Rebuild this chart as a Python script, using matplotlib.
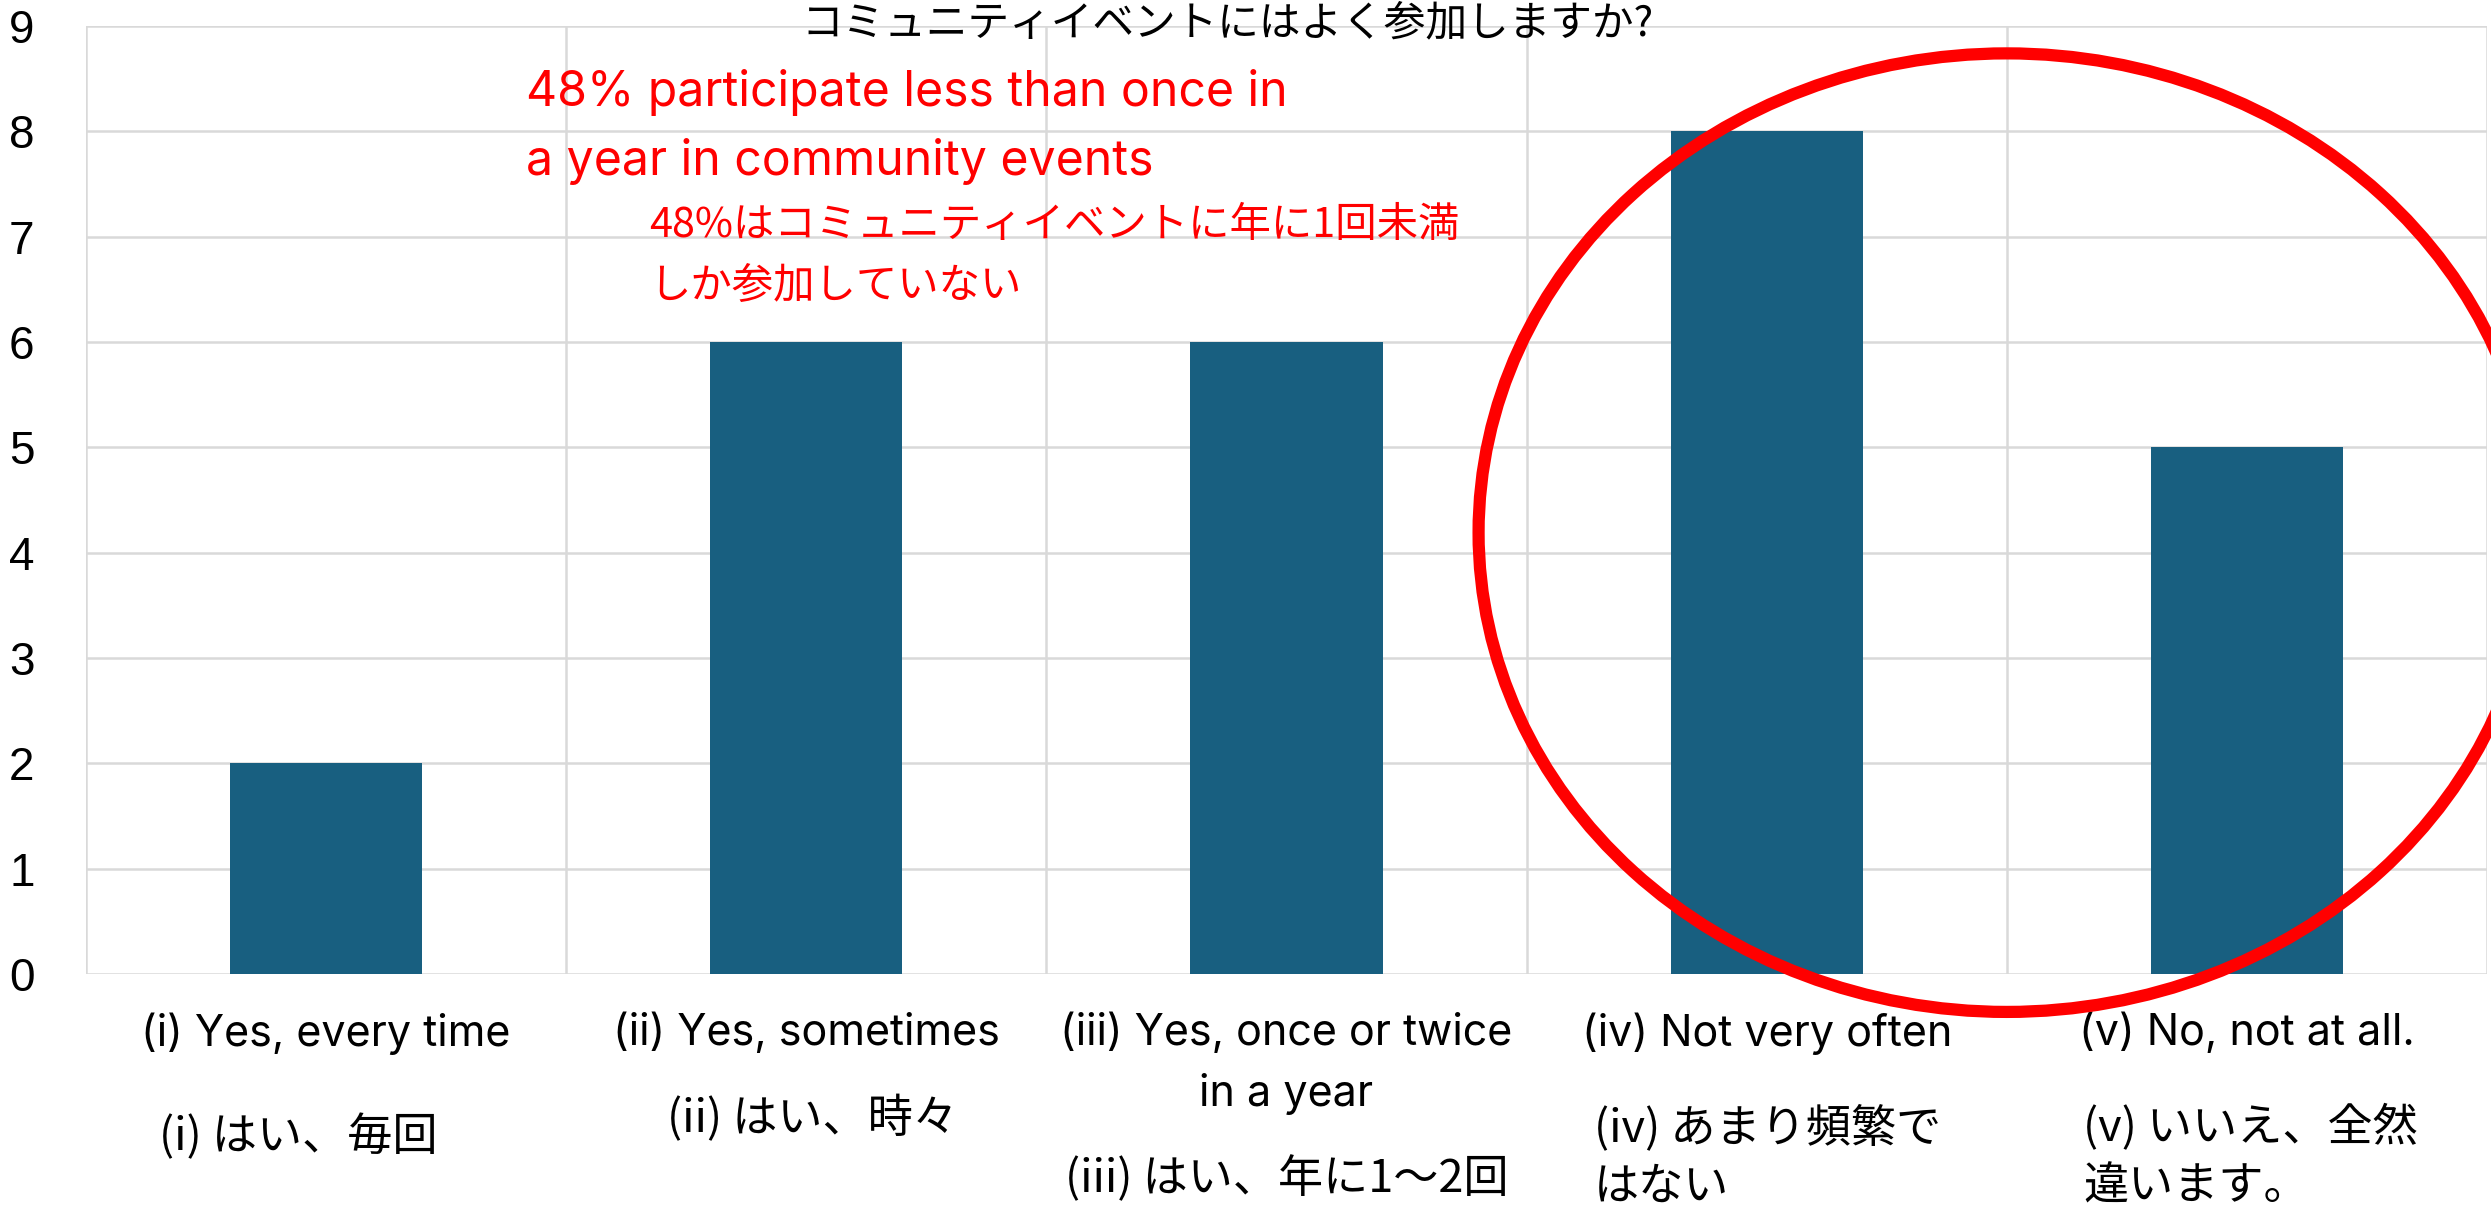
import matplotlib.pyplot as plt
from matplotlib.patches import Ellipse

# survey answers, English (tick labels) and Japanese (text under each tick)
answers_en = [
    "(i) Yes, every time",
    "(ii) Yes, sometimes",
    "(iii) Yes, once or twice\nin a year",
    "(iv) Not very often",
    "(v) No, not at all.",
]
answers_ja = [
    "(i) はい、毎回",
    "(ii) はい、時々",
    "(iii) はい、年に1〜2回",
    "(iv) あまり頻繁で\nはない",
    "(v) いいえ、全然\n違います。",
]
counts = [2, 6, 6, 8, 5]

title = "コミュニティイベントにはよく参加しますか?"
note_en = "48% participate less than once in\na year in community events"
note_ja = "48%はコミュニティイベントに年に1回未満\nしか参加していない"

W, H = 2491, 1207
LATIN = ["Inter", "Noto Sans CJK JP"]
CJK = ["Noto Sans CJK JP", "DejaVu Sans"]


def fx(px):
    return px / W


def fy(py):
    return 1 - py / H


fig = plt.figure(figsize=(W / 100, H / 100), dpi=100)
ax = fig.add_axes([fx(86), fy(974), fx(2487) - fx(86), fy(26) - fy(974)])

pos = list(range(len(counts)))
ax.bar(pos, counts, width=0.4, color="#185F80", zorder=2)

ax.set_xlim(-0.5, len(counts) - 0.5)
ax.set_ylim(0, 9)
ax.set_yticks(range(10))
ax.set_xticks(pos)
ax.set_xticklabels(answers_en, fontsize=31, family=LATIN, linespacing=1.55)
ax.set_xticks([p - 0.5 for p in range(len(counts) + 1)], minor=True)
ax.grid(axis="y", which="major", color="#D9D9D9", lw=1.8, zorder=0)
ax.grid(axis="x", which="minor", color="#D9D9D9", lw=1.8, zorder=0)
ax.tick_params(which="both", length=0)
ax.tick_params(axis="y", labelsize=33, pad=37)
ax.tick_params(axis="x", pad=28)
for lab in ax.get_yticklabels():
    lab.set_family("Liberation Sans")
for s in ax.spines.values():
    s.set_visible(False)

# Japanese answers placed under the English ones
ja_pos = [(159, 1137), (667, 1119), (1065, 1179), (1594, 1157), (2083, 1157)]
for text, (x, y) in zip(answers_ja, ja_pos):
    fig.text(fx(x), fy(y), text, ha="left", va="center", fontsize=32.5,
             family=CJK, linespacing=1.36)

fig.text(fx(1228), fy(24), title, ha="center", va="center", fontsize=30,
         family=CJK, color="black")

fig.text(fx(526), fy(127), note_en, ha="left", va="center", fontsize=34.7,
         family=LATIN, color="red", linespacing=1.62)
fig.text(fx(649), fy(256), note_ja, ha="left", va="center", fontsize=29.8,
         family=CJK, color="red", linespacing=1.62)

ax.add_patch(Ellipse((3.5, 4.19), width=2.2, height=9.1, fill=False,
                     ec="red", lw=8.8, clip_on=False, zorder=5))

fig.savefig("out.png", dpi=100)
